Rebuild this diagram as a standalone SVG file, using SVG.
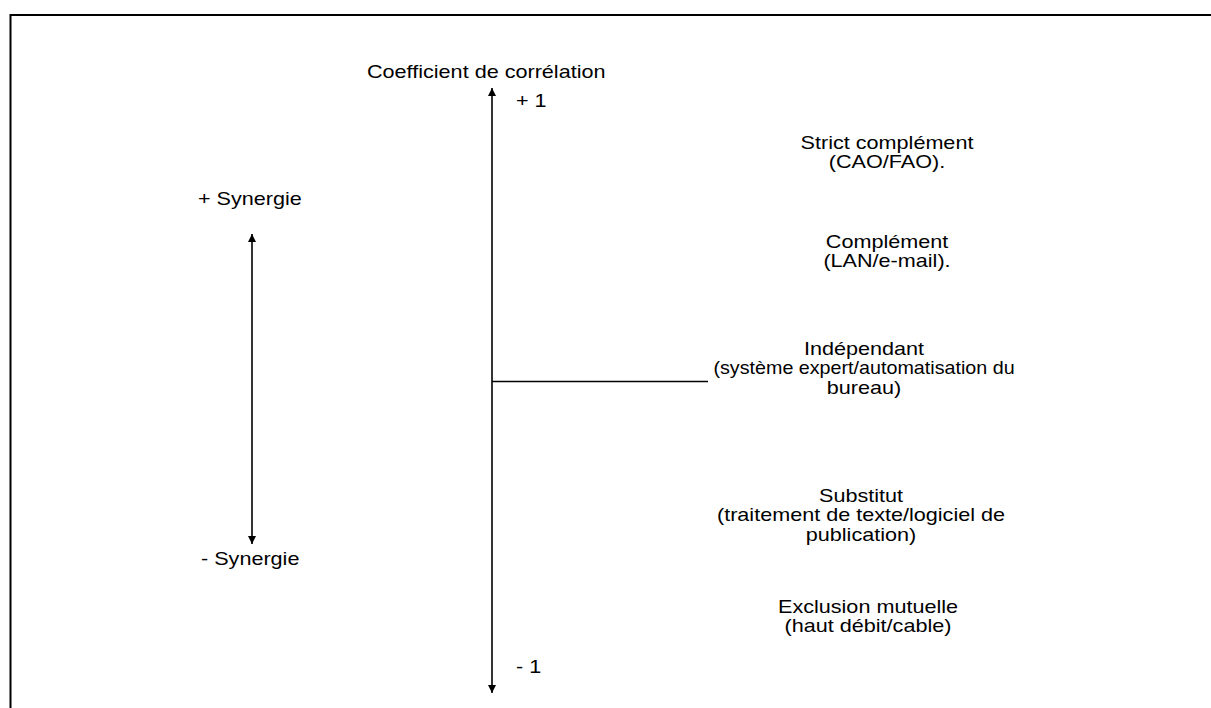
<svg xmlns="http://www.w3.org/2000/svg" width="1211" height="708" viewBox="0 0 1211 708">
  <style>
    text { font-family: "Liberation Sans", Arial, sans-serif; font-size: 18px; fill: #000; }
    .c { text-anchor: middle; }
    .ln { stroke: #000; stroke-width: 1.6; fill: none; }
    .frame { stroke: #000; stroke-width: 2; fill: none; }
  </style>
  <defs>
    <marker id="arr" viewBox="0 0 10 10" refX="10" refY="5" markerWidth="10" markerHeight="8" markerUnits="userSpaceOnUse" orient="auto-start-reverse">
      <path d="M0,0 L10,5 L0,10 z" fill="#000"/>
    </marker>
  </defs>
  <rect width="1211" height="708" fill="#fff"/>
  <!-- open frame: left and top edges only -->
  <path class="frame" d="M10.5,708 V15 H1211"/>

  <g id="connectors">
    <line class="ln" x1="492" y1="88" x2="492" y2="693" marker-start="url(#arr)" marker-end="url(#arr)"/>
    <line class="ln" x1="492" y1="381.5" x2="708" y2="381.5"/>
    <line class="ln" x1="252" y1="234" x2="252" y2="544" marker-start="url(#arr)" marker-end="url(#arr)"/>
  </g>

  <!-- labels are set slightly wide: scale(1.2,1) about their anchor -->
  <g id="axis-title" transform="translate(367,0) scale(1.2,1)"><text x="0" y="78">Coefficient de corrélation</text></g>
  <g id="plus-one" transform="translate(516,0) scale(1.2,1)"><text x="0" y="107">+ 1</text></g>
  <g id="minus-one" transform="translate(516,0) scale(1.2,1)"><text x="0" y="673">- 1</text></g>
  <g id="plus-synergie" transform="translate(198,0) scale(1.2,1)"><text x="0" y="205">+ Synergie</text></g>
  <g id="minus-synergie" transform="translate(201,0) scale(1.2,1)"><text x="0" y="565">- Synergie</text></g>

  <g id="strict-complement" transform="translate(887,0) scale(1.2,1)">
    <text class="c" x="0" y="149">Strict complément</text>
    <text class="c" x="0" y="168">(CAO/FAO).</text>
  </g>
  <g id="complement" transform="translate(887,0) scale(1.2,1)">
    <text class="c" x="0" y="248">Complément</text>
    <text class="c" x="0" y="267">(LAN/e-mail).</text>
  </g>
  <g id="independant" transform="translate(864,0) scale(1.2,1)">
    <text class="c" x="0" y="355">Indépendant</text>
    <text class="c" x="0" y="374" textLength="251" lengthAdjust="spacingAndGlyphs">(système expert/automatisation du</text>
    <text class="c" x="0" y="394">bureau)</text>
  </g>
  <g id="substitut" transform="translate(861,0) scale(1.2,1)">
    <text class="c" x="0" y="502">Substitut</text>
    <text class="c" x="0" y="521">(traitement de texte/logiciel de</text>
    <text class="c" x="0" y="541">publication)</text>
  </g>
  <g id="exclusion" transform="translate(868,0) scale(1.2,1)">
    <text class="c" x="0" y="613">Exclusion mutuelle</text>
    <text class="c" x="0" y="632">(haut débit/cable)</text>
  </g>
</svg>
